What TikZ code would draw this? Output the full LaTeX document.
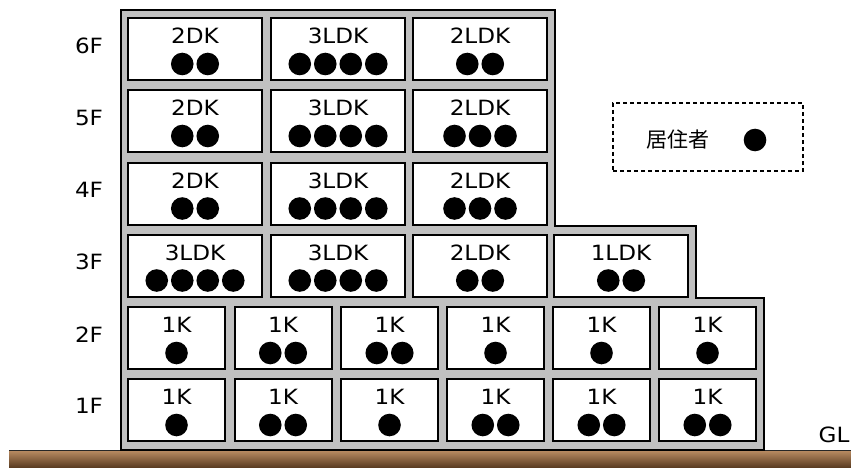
\documentclass[tikz,border=0pt]{standalone}
\usepackage{fontspec}
\setmainfont{DejaVu Sans}[FakeStretch=1.1]
\newfontfamily\jpfont{Noto Sans CJK JP}
\usetikzlibrary{positioning}
\definecolor{wallgray}{RGB}{192,192,192}
\definecolor{earthtop}{RGB}{188,142,100}
\definecolor{earthbot}{RGB}{86,56,30}

\begin{document}
\begin{tikzpicture}[x=1pt,y=-1pt,
  wall/.style={draw=black,line width=2pt,fill=wallgray,line join=miter},
  room/.style={draw=black,line width=2pt,fill=white,minimum height=62pt,inner sep=0pt},
  roomtext/.style={font=\fontsize{21}{25}\selectfont,inner sep=0pt},
  floortext/.style={font=\fontsize{21}{25}\selectfont,inner sep=0pt},
  resident/.style={fill=black},
  legendbox/.style={draw=black,line width=1.5pt,dash pattern=on 4pt off 3pt,
                    minimum width=190pt,minimum height=68pt,inner sep=0pt}]
  \useasboundingbox (0,0) rectangle (851,468);
  % Ground
  \shade[top color=earthtop,bottom color=earthbot] (9,450) rectangle (851,468);
  \draw[line width=1pt,black!85] (9,450.5) -- (851,450.5);
  % Building outline
  \filldraw[wall] (121,450) -- (121,10.5) -- (554.5,10.5) -- (554.5,226)
    -- (696,226) -- (696,298) -- (764,298) -- (764,450) -- cycle;
  % Rooms: name/x/y/width/type/residents
  \foreach \nm/\cx/\cy/\w/\lbl/\n in {
    f6a/195/49/134/2DK/2, f6b/338/49/134/3LDK/4, f6c/480/49/134/2LDK/2,
    f5a/195/121/134/2DK/2, f5b/338/121/134/3LDK/4, f5c/480/121/134/2LDK/3,
    f4a/195/193.5/134/2DK/2, f4b/338/193.5/134/3LDK/4, f4c/480/193.5/134/2LDK/3,
    f3a/195/265.5/134/3LDK/4, f3b/338/265.5/134/3LDK/4, f3c/480/265.5/134/2LDK/2,
    f3d/621/265.5/134/1LDK/2,
    f2a/176.5/338/97/1K/1, f2b/283/338/97/1K/2, f2c/389.5/338/97/1K/2,
    f2d/495.5/338/97/1K/1, f2e/601.5/338/97/1K/1, f2f/707.5/338/97/1K/1,
    f1a/176.5/410/97/1K/1, f1b/283/410/97/1K/2, f1c/389.5/410/97/1K/1,
    f1d/495.5/410/97/1K/2, f1e/601.5/410/97/1K/2, f1f/707.5/410/97/1K/2}{
    \node[room,minimum width=\w pt] (\nm) at (\cx,\cy) {};
    \node[roomtext] (\nm-t) at ([yshift=13pt]\nm.center) {\lbl};
    \foreach \k in {1,...,\n}
      \fill[resident] ([xshift={(\k-(\n+1)/2)*25.5pt},yshift=-15pt]\nm.center)
        circle[radius=11.3pt];
  }
  % Floor numbers
  \foreach \fl/\y in {6F/46,5F/118,4F/190,3F/262,2F/335,1F/406}
    \node[floortext] (lbl-\fl) at (89,\y) {\fl};
  % Legend
  \node[legendbox] (legend) at (708,137) {};
  \node[font=\jpfont\fontsize{21}{25}\selectfont,inner sep=0pt] (legend-t) at (678,140) {居住者};
  \fill[resident] (755,140) circle[radius=11.3pt];
  % Ground level
  \node[floortext] (gl) at (834,435) {GL};
\end{tikzpicture}
\end{document}
